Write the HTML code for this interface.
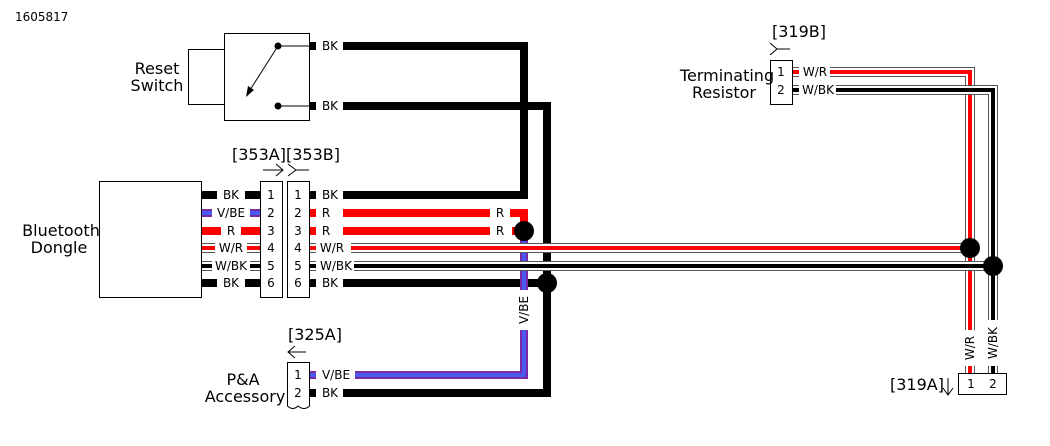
<!DOCTYPE html>
<html><head><style>body{margin:0;background:#fff}svg{display:block}text{font-family:"DejaVu Sans","Liberation Sans",sans-serif}</style></head><body>
<svg width="1050" height="446" viewBox="0 0 1050 446" xmlns="http://www.w3.org/2000/svg">
<text x="15" y="21" font-size="12">1605817</text>
<!-- Reset switch -->
<rect x="188.5" y="49.5" width="36" height="55" fill="none" stroke="#000"/>
<rect x="224.5" y="33.5" width="85" height="87" fill="#fff" stroke="#000"/>
<circle cx="278" cy="46" r="3.5"/><circle cx="278" cy="106" r="3.5"/>
<line x1="278" y1="46" x2="309" y2="46" stroke="#000"/><line x1="278" y1="106" x2="309" y2="106" stroke="#000"/>
<line x1="278" y1="46" x2="250" y2="90" stroke="#000"/><polygon points="246,97 248,86 254,90" fill="#000"/>
<text x="157" y="74" font-size="16" text-anchor="middle">Reset</text>
<text x="157" y="91" font-size="16" text-anchor="middle">Switch</text>
<g fill="none" stroke-linejoin="miter">
<path d="M343 46 H524 V195 H343" stroke="#000" stroke-width="8"/>
<path d="M343 106 H547 V393 H343" stroke="#000" stroke-width="8"/>
<path d="M343 283 H547" stroke="#000" stroke-width="8"/>
<path d="M343 213 H490 M343 231 H490" stroke="#f00" stroke-width="8"/>
<path d="M510 213 H524 V231 M512 231 H524" stroke="#f00" stroke-width="8"/>
<path d="M524 231 V290 M524 330 V375 H355" stroke="#7a2aa0" stroke-width="8"/>
<path d="M524 231 V290 M524 330 V375 H355" stroke="#4a5af0" stroke-width="4"/>
<g>
<path d="M318 248 H970 V365 M800 72 H970 V248" stroke="#555" stroke-width="10"/>
<path d="M318 248 H970 V365 M800 72 H970 V248" stroke="#fff" stroke-width="8"/>
<path d="M318 248 H970 V365 M800 72 H970 V248" stroke="#f00" stroke-width="4"/>
<path d="M353 266 H993 V365 M800 90 H993 V266" stroke="#555" stroke-width="10"/>
<path d="M353 266 H993 V365 M800 90 H993 V266" stroke="#fff" stroke-width="8"/>
<path d="M353 266 H993 V365 M800 90 H993 V266" stroke="#000" stroke-width="4"/>
</g>
<path d="M201 195 H217 M245 195 H260 M201 231 H221 M241 231 H260 M201 283 H217 M245 283 H260 M309 195 H316 M309 213 H316 M309 231 H316 M309 283 H316 M309 375 H316 M309 393 H316 M309 46 H316 M309 106 H316" stroke="#000" stroke-width="8"/>
<path d="M309 213 H316 M309 231 H316" stroke="#f00" stroke-width="8"/>
<path d="M201 231 H221 M241 231 H260" stroke="#f00" stroke-width="8"/>
<path d="M309 375 H316" stroke="#7a2aa0" stroke-width="8"/>
<path d="M201 213 H212 M250 213 H260" stroke="#7a2aa0" stroke-width="8"/>
<path d="M201 213 H212 M250 213 H260 M309 375 H316" stroke="#4a5af0" stroke-width="4"/>
<path d="M201 248 H215 M247 248 H260 M309 248 H316" stroke="#555" stroke-width="10"/>
<path d="M201 248 H215 M247 248 H260 M309 248 H316" stroke="#fff" stroke-width="8"/>
<path d="M201 248 H215 M247 248 H260 M309 248 H316" stroke="#f00" stroke-width="4"/>
<path d="M201 266 H212 M250 266 H260 M309 266 H316" stroke="#555" stroke-width="10"/>
<path d="M201 266 H212 M250 266 H260 M309 266 H316" stroke="#fff" stroke-width="8"/>
<path d="M201 266 H212 M250 266 H260 M309 266 H316" stroke="#000" stroke-width="4"/>
<path d="M792 72 H799 M792 90 H799" stroke="#555" stroke-width="10"/>
<path d="M792 72 H799 M792 90 H799" stroke="#fff" stroke-width="8"/>
<path d="M792 72 H799" stroke="#f00" stroke-width="4"/><path d="M792 90 H799" stroke="#000" stroke-width="4"/>
</g>
<rect x="316" y="240" width="35" height="16" fill="#fff"/>
<rect x="316" y="258" width="38" height="16" fill="#fff"/>
<rect x="799" y="64" width="31" height="16" fill="#fff"/>
<rect x="799" y="82" width="37" height="16" fill="#fff"/>
<rect x="962" y="330" width="16" height="36" fill="#fff"/>
<rect x="985" y="320" width="16" height="46" fill="#fff"/>
<path d="M970 366 V373 M993 366 V373" stroke="#555" stroke-width="10"/>
<path d="M970 366 V373 M993 366 V373" stroke="#fff" stroke-width="8"/>
<path d="M970 366 V373" stroke="#f00" stroke-width="4"/><path d="M993 366 V373" stroke="#000" stroke-width="4"/>
<circle cx="524" cy="231" r="10"/><circle cx="547" cy="283" r="10"/>
<circle cx="970" cy="248" r="10"/><circle cx="993" cy="266" r="10"/>
<rect x="99.5" y="181.5" width="102" height="116" fill="#fff" stroke="#000"/>
<text x="61" y="236" font-size="16" text-anchor="middle">Bluetooth</text>
<text x="59" y="253" font-size="16" text-anchor="middle">Dongle</text>
<rect x="260.5" y="181.5" width="22" height="116" fill="#fff" stroke="#000"/>
<rect x="287.5" y="181.5" width="22" height="116" fill="#fff" stroke="#000"/>
<!-- 325A -->
<text x="288" y="340" font-size="16">[325A]</text>
<path d="M288 352 H306 M295 346 L288 352 L295 358" stroke="#000" fill="none"/>
<path d="M287.5 362.5 H309.5 V406 Q304 411 298 406 Q293 411 287.5 406 Z" fill="#fff" stroke="#000"/>
<text x="243" y="385" font-size="16" text-anchor="middle">P&amp;A</text>
<text x="245" y="402" font-size="16" text-anchor="middle">Accessory</text>
<!-- 319B -->
<text x="772" y="37" font-size="16">[319B]</text>
<path d="M770 43 L777 49 L770 55 M777 49 H790" stroke="#000" fill="none"/>
<rect x="770.5" y="60.5" width="22" height="44" fill="#fff" stroke="#000"/>
<text x="727" y="81" font-size="16" text-anchor="middle">Terminating</text>
<text x="724" y="98" font-size="16" text-anchor="middle">Resistor</text>
<!-- 319A -->
<rect x="958.5" y="373.5" width="48" height="21" fill="#fff" stroke="#000"/>
<text x="890" y="390" font-size="16">[319A]</text>
<path d="M948 378 V395 M943 388 L948 395 L953 388" stroke="#000" fill="none"/>
<g font-size="12" text-anchor="middle">
<text x="271" y="199">1</text><text x="271" y="217">2</text><text x="271" y="235">3</text><text x="271" y="252">4</text><text x="271" y="270">5</text><text x="271" y="287">6</text>
<text x="298" y="199">1</text><text x="298" y="217">2</text><text x="298" y="235">3</text><text x="298" y="252">4</text><text x="298" y="270">5</text><text x="298" y="287">6</text>
<text x="231" y="199">BK</text><text x="231" y="217">V/BE</text><text x="231" y="235">R</text><text x="231" y="252">W/R</text><text x="231" y="270">W/BK</text><text x="231" y="287">BK</text>
<text x="330" y="50">BK</text><text x="330" y="110">BK</text>
<text x="330" y="199">BK</text><text x="326" y="217">R</text><text x="326" y="235">R</text><text x="332" y="252">W/R</text><text x="336" y="270">W/BK</text><text x="330" y="287">BK</text>
<text x="500" y="217">R</text><text x="500" y="235">R</text>
<text x="298" y="379">1</text><text x="298" y="397">2</text>
<text x="336" y="379">V/BE</text><text x="330" y="397">BK</text>
<text x="781" y="76">1</text><text x="781" y="94">2</text>
<text x="815" y="76">W/R</text><text x="818" y="94">W/BK</text>
<text x="971" y="388">1</text><text x="993" y="388">2</text>
</g>
<text font-size="12" text-anchor="middle" transform="translate(528,310) rotate(-90)">V/BE</text>
<text font-size="12" text-anchor="middle" transform="translate(974,348) rotate(-90)">W/R</text>
<text font-size="12" text-anchor="middle" transform="translate(997,343) rotate(-90)">W/BK</text>
<text x="232" y="160" font-size="16">[353A][353B]</text>
<path d="M263 170 H282 M276 164 L283 170 L276 176 M288 164 L296 170 L288 176 M296 170 H309" stroke="#000" fill="none"/>
</svg>
</body></html>
